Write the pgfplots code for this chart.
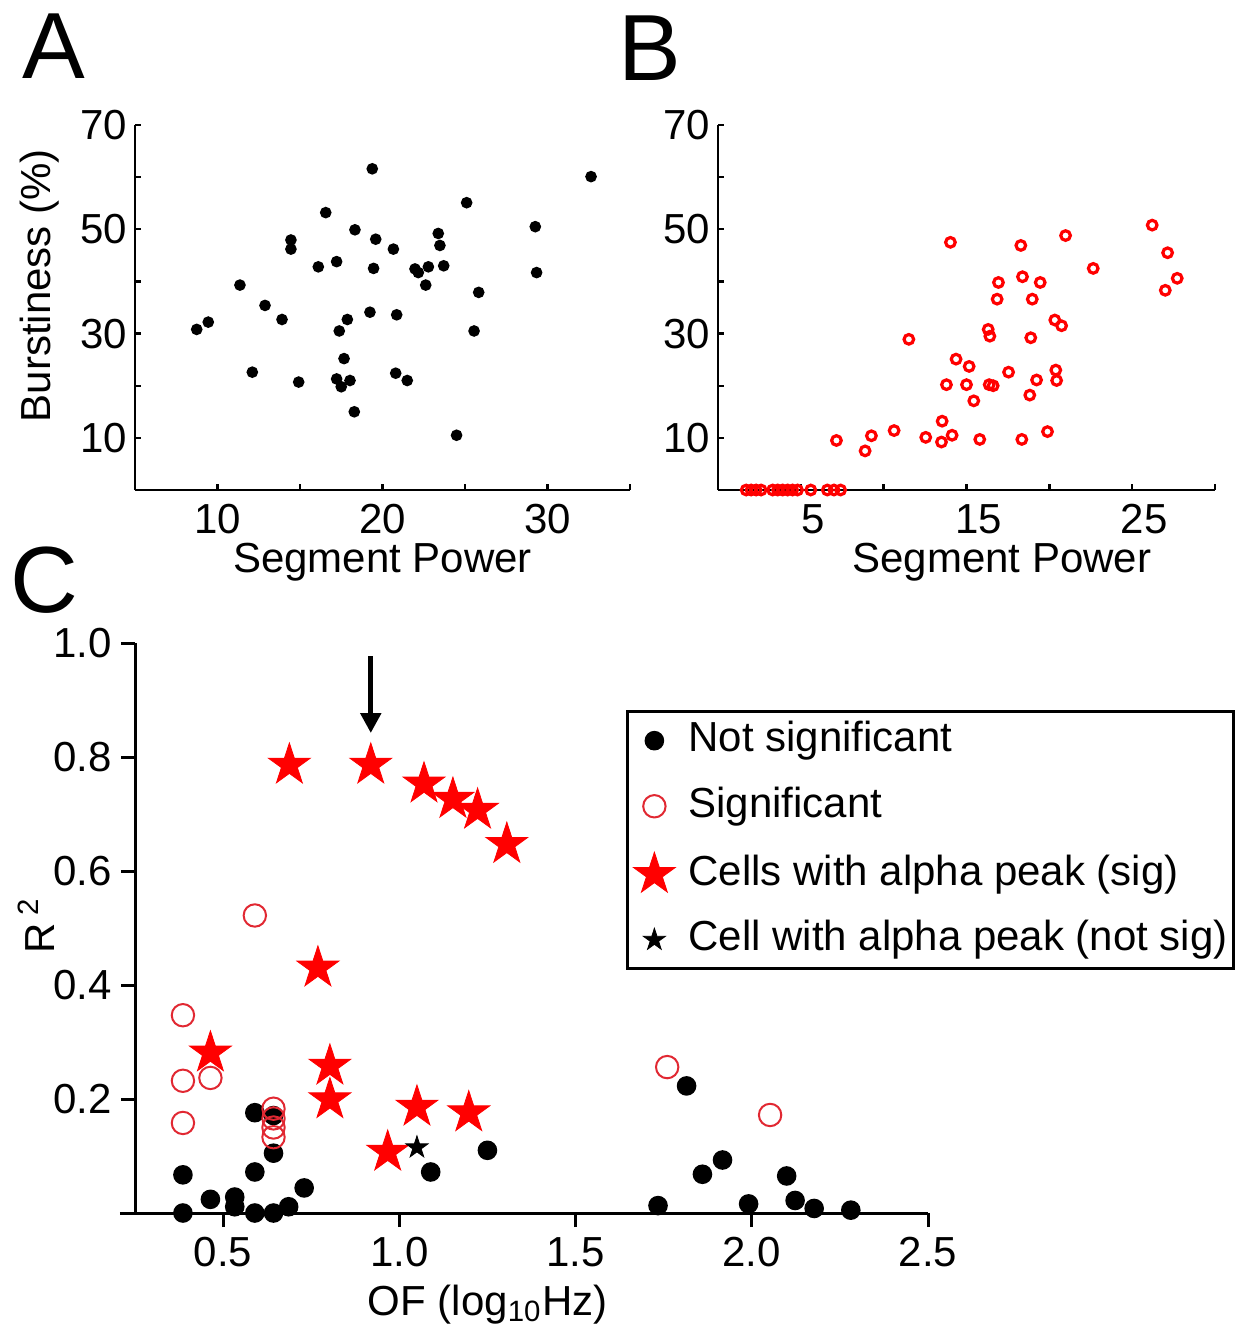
\documentclass[border=0pt]{standalone}
\usepackage{fontspec}
\setmainfont{Liberation Sans}
\usepackage{pgfplots}
\pgfplotsset{compat=1.18}
\usetikzlibrary{arrows.meta}

\pgfdeclareplotmark{fstar}{%
\pgfpathmoveto{\pgfpointpolar{90}{\pgfplotmarksize}}%
\pgfpathlineto{\pgfpointpolar{126}{0.382\pgfplotmarksize}}%
\pgfpathlineto{\pgfpointpolar{162}{\pgfplotmarksize}}%
\pgfpathlineto{\pgfpointpolar{198}{0.382\pgfplotmarksize}}%
\pgfpathlineto{\pgfpointpolar{234}{\pgfplotmarksize}}%
\pgfpathlineto{\pgfpointpolar{270}{0.382\pgfplotmarksize}}%
\pgfpathlineto{\pgfpointpolar{306}{\pgfplotmarksize}}%
\pgfpathlineto{\pgfpointpolar{342}{0.382\pgfplotmarksize}}%
\pgfpathlineto{\pgfpointpolar{18}{\pgfplotmarksize}}%
\pgfpathlineto{\pgfpointpolar{54}{0.382\pgfplotmarksize}}%
\pgfpathclose\pgfusepathqfillstroke}

\newcommand{\fs}{\fontsize{10.5}{12.6}\selectfont}
\definecolor{sigred}{RGB}{225,40,50}

\pgfplotsset{
  common/.style={
    scale only axis, clip=false,
    axis lines=left, axis line style={-, line width=0.6pt},
    every tick/.style={line width=0.6pt, black},
    tick label style={font=\fs},
    label style={font=\fs},
    /pgf/number format/assume math mode=true,
  }
}

\begin{document}
\begin{tikzpicture}
\useasboundingbox (0,0) rectangle (310.25pt,-332pt);

% Panel letters
\node[anchor=north west, inner sep=0pt, font=\fontsize{23.5}{28}\selectfont] at (5.5pt,-3.25pt) {A};
\node[anchor=north west, inner sep=0pt, font=\fontsize{23.5}{28}\selectfont] at (154.4pt,-3.75pt) {B};
\node[anchor=north west, inner sep=0pt, font=\fontsize{23.5}{28}\selectfont] at (2.4pt,-136.5pt) {C};

% Panel A
\begin{axis}[common, at={(33.75pt,-122.5pt)}, anchor=south west,
  width=123.75pt, height=91.25pt,
  xmin=5, xmax=35, ymin=0, ymax=70,
  xtick={10,15,20,25,30,35}, xticklabels={10,,20,,30,},
  ytick={10,20,30,40,50,60,70}, yticklabels={10,,30,,50,,70},
  yticklabel style={xshift=1.5pt},
  tick align=inside, major tick length=1.5pt,
  xlabel={Segment Power}, ylabel={Burstiness (\%)},
  xlabel style={at={(axis description cs:0.5,-0.227)}, anchor=base},
  ylabel style={at={(axis description cs:-0.192,0.56)}, anchor=center},
]
\addplot[only marks, mark=*, mark size=1.25pt, black] coordinates {
(19.38,61.6)(32.64,60.1)(25.1,55.1)(16.56,53.2)(18.33,49.9)(29.26,50.5)
(14.45,47.95)(14.45,46.2)(19.59,48.1)(23.38,49.2)(23.48,46.9)(20.66,46.2)
(16.11,42.8)(17.22,43.8)(19.46,42.5)(21.97,42.4)(22.17,41.7)(22.78,42.8)
(23.71,43.0)(29.34,41.7)(11.36,39.3)(22.62,39.3)(25.83,37.9)(12.88,35.4)
(13.91,32.7)(19.24,34.1)(20.86,33.6)(17.87,32.7)(17.38,30.5)(8.74,30.8)
(9.44,32.2)(25.55,30.5)(17.67,25.2)(12.11,22.6)(20.80,22.4)(21.5,21.0)
(14.92,20.7)(17.22,21.3)(18.03,21.0)(17.5,19.8)(18.29,15.0)(24.49,10.5)
};
\end{axis}

% Panel B
\begin{axis}[common, at={(179.5pt,-122.5pt)}, anchor=south west,
  width=124.25pt, height=91.25pt,
  xmin=0, xmax=30, ymin=0, ymax=70,
  xtick={5,10,15,20,25,30}, xticklabels={5,,15,,25,},
  xticklabel style={xshift=3pt},
  ytick={10,20,30,40,50,60,70}, yticklabels={10,,30,,50,,70},
  yticklabel style={xshift=1.5pt},
  tick align=inside, major tick length=1.5pt,
  xlabel={Segment Power},
  xlabel style={at={(axis description cs:0.571,-0.227)}, anchor=base},
]
\addplot[only marks, mark=o, mark size=1.2pt, red, line width=0.8pt] coordinates {
(26.21,50.8)(20.98,48.8)(14.03,47.5)(18.28,46.9)(27.14,45.5)(22.65,42.5)
(18.38,40.9)(27.72,40.6)(16.93,39.8)(19.45,39.8)(27.0,38.3)(16.85,36.6)
(18.97,36.6)(20.33,32.6)(20.74,31.5)(16.31,30.8)(16.41,29.5)(11.52,28.9)
(18.88,29.2)(14.37,25.1)(15.16,23.7)(17.54,22.6)(20.39,23.0)(20.44,21.0)
(19.23,21.1)(13.79,20.2)(15.0,20.2)(16.37,20.2)(16.61,20.0)(18.82,18.2)
(15.44,17.1)(13.53,13.2)(10.63,11.4)(19.89,11.2)(9.26,10.4)(14.13,10.5)
(7.15,9.5)(12.54,10.1)(13.49,9.2)(15.8,9.7)(18.34,9.7)(8.88,7.5)
(1.7,0)(2.0,0)(2.3,0)(2.6,0)(3.3,0)(3.6,0)(3.9,0)(4.2,0)(4.5,0)(4.8,0)
(5.6,0)(6.6,0)(7.0,0)(7.4,0)
};
\end{axis}

% Panel C
\begin{axis}[common, at={(33.75pt,-303.25pt)}, anchor=south west,
  width=198.25pt, height=142.5pt,
  axis line style={-, line width=0.75pt},
  every tick/.style={line width=0.75pt, black},
  xmin=0.25, xmax=2.5, ymin=0, ymax=1,
  xtick={0.5,1.0,1.5,2.0,2.5}, ytick={0.2,0.4,0.6,0.8,1.0},
  tick align=outside, major tick length=3.5pt,
  xticklabel style={yshift=1pt, /pgf/number format/.cd, fixed, zerofill, precision=1},
  yticklabel style={xshift=1.25pt, /pgf/number format/.cd, fixed, zerofill, precision=1},
  xlabel={OF (log\textsubscript{10}Hz)}, ylabel={R\,\textsuperscript{2}},
  xlabel style={at={(axis description cs:0.445,-0.179)}, anchor=base},
  ylabel style={at={(axis description cs:-0.124,0.505)}, anchor=center},
  legend cell align=left,
  legend style={at={(axis description cs:0.619,0.882)}, anchor=north west,
    font=\fs, draw=black, line width=0.8pt, fill=white,
    inner xsep=1.5pt, inner ysep=2.3pt, row sep=6.6pt,
    nodes={inner sep=0pt, text height=7.6pt, text depth=2.2pt}},
  legend image code/.code={\path[draw=none, fill=none] (0pt,0pt) -- (13.5pt,0pt);
    \draw[#1, line width=0.4pt] plot coordinates {(5pt,0pt)};},
]
\addplot[only marks, mark=*, mark size=2.25pt, black] coordinates {
(0.386,0.0)(0.386,0.067)(0.464,0.024)(0.533,0.028)(0.533,0.011)(0.590,0.0)
(0.590,0.072)(0.590,0.176)(0.643,0.0)(0.643,0.171)(0.643,0.105)(0.686,0.011)
(0.730,0.044)(1.089,0.072)(1.250,0.110)(1.734,0.013)(1.815,0.223)(1.860,0.068)
(1.917,0.093)(1.991,0.016)(2.099,0.065)(2.123,0.022)(2.177,0.008)(2.281,0.005)
};
\addlegendentry{Not significant}
\addplot[only marks, mark=o, mark size=2.8pt, sigred, mark options={line width=0.5pt}] coordinates {
(0.590,0.522)(0.386,0.347)(0.386,0.232)(0.464,0.237)(0.386,0.158)
(0.643,0.183)(0.643,0.166)(0.643,0.150)(0.643,0.133)(1.760,0.256)(2.052,0.172)
};
\addlegendentry{Significant}
\addplot[only marks, mark=fstar, mark size=5.5pt, red, mark options={fill=red, draw=red, line width=0.2pt}] coordinates {
(0.688,0.786)(0.919,0.786)(1.07,0.753)(1.152,0.726)(1.222,0.707)(1.305,0.647)
(0.769,0.430)(0.464,0.281)(0.803,0.258)(0.803,0.199)(1.050,0.186)(1.197,0.176)
(0.967,0.107)
};
\addlegendentry{Cells with alpha peak (sig)}
\addplot[only marks, mark=fstar, mark size=2.9pt, black, mark options={fill=black, draw=black, line width=0.2pt}] coordinates {
(1.050,0.115)
};
\addlegendentry{Cell with alpha peak (not sig)}
\draw[line width=0.75pt] (axis cs:0.207,0) -- (axis cs:0.25,0);
\draw[line width=1.25pt, -{Triangle[width=5pt,length=5pt]}] (axis cs:0.919,0.977) -- (axis cs:0.919,0.842);
\end{axis}
\end{tikzpicture}
\end{document}
